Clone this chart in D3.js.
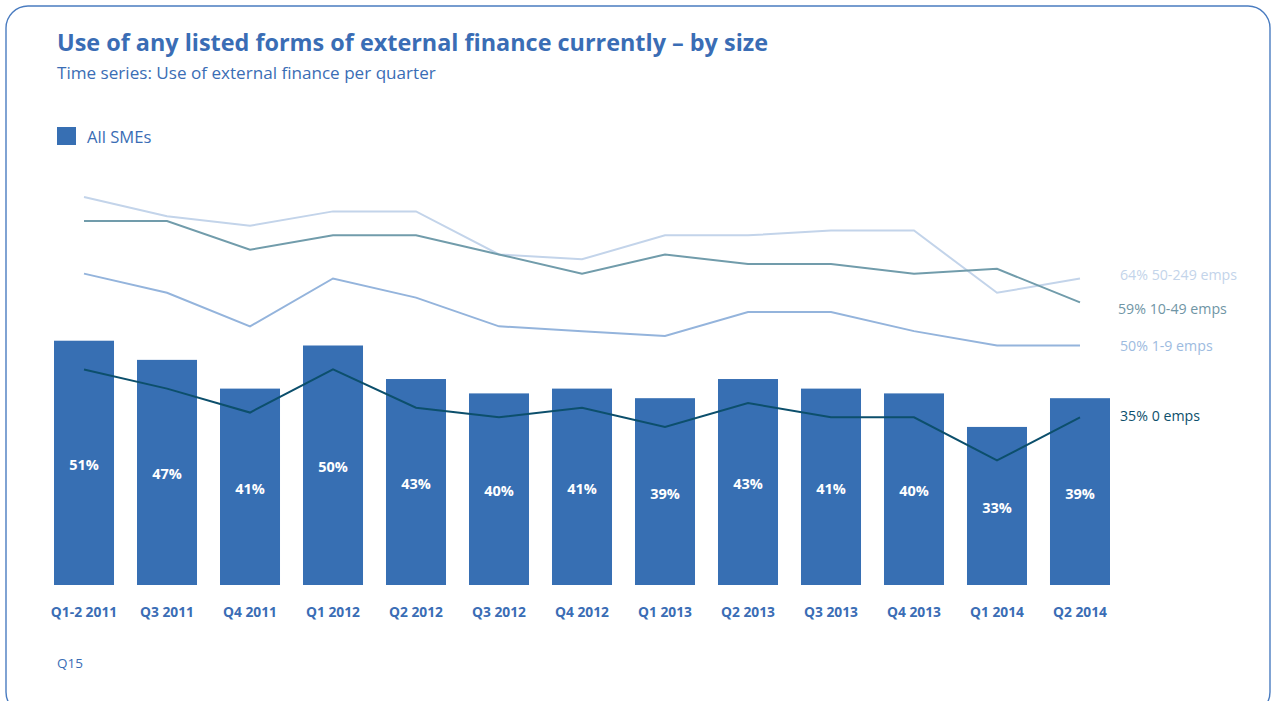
<!DOCTYPE html>
<html>
<head>
<meta charset="utf-8">
<script src="https://cdn.jsdelivr.net/npm/d3@7"></script>
<style>
  html, body { margin: 0; padding: 0; background: #ffffff; }
  svg { display: block; font-family: "Open Sans", "Noto Sans", sans-serif; }
</style>
</head>
<body>
<svg id="chart" width="1273" height="701"></svg>
<script>
// Survey quarters
const quarters = ["Q1-2 2011", "Q3 2011", "Q4 2011", "Q1 2012", "Q2 2012", "Q3 2012", "Q4 2012",
                  "Q1 2013", "Q2 2013", "Q3 2013", "Q4 2013", "Q1 2014", "Q2 2014"];

// Use of external finance, all SMEs (%)
const allSMEs = [51, 47, 41, 50, 43, 40, 41, 39, 43, 41, 40, 33, 39];

// Use of external finance by business size (%)
const emps0     = [45, 41, 36, 45, 37, 35, 37, 33, 38, 35, 35, 26, 35];
const emps1to9  = [65, 61, 54, 64, 60, 54, 53, 52, 57, 57, 53, 50, 50];
const emps10to49 = [76, 76, 70, 73, 73, 69, 65, 69, 67, 67, 65, 66, 59];
const emps50to249 = [81, 77, 75, 78, 78, 69, 68, 73, 73, 74, 74, 61, 64];

const sizeSeries = [
  { name: "50-249 emps", values: emps50to249, color: "#c3d4ea", labelColor: "#c3d4ea", nudge: -3, lx: 1120 },
  { name: "10-49 emps",  values: emps10to49,  color: "#719cab", labelColor: "#6f95a5", nudge: 7, lx: 1118 },
  { name: "1-9 emps",    values: emps1to9,    color: "#94b4dc", labelColor: "#9dbbe0", nudge: 0, lx: 1120 },
  { name: "0 emps",      values: emps0,       color: "#0c4f6c", labelColor: "#0c4f6c", nudge: -1, lx: 1120 }
];

const blue = "#376fb3";
const titleBlue = "#3a6db5";

const svg = d3.select("#chart");

// Rounded frame
svg.append("rect")
  .attr("x", 6).attr("y", 6)
  .attr("width", 1264).attr("height", 708)
  .attr("rx", 22).attr("ry", 22)
  .attr("fill", "none")
  .attr("stroke", "#4a7cc0")
  .attr("stroke-width", 1.4);

// Titles
svg.append("text")
  .attr("x", 57).attr("y", 51)
  .attr("fill", titleBlue)
  .attr("font-size", 23.4).attr("font-weight", 700)
  .text("Use of any listed forms of external finance currently – by size");

svg.append("text")
  .attr("x", 57).attr("y", 79)
  .attr("fill", titleBlue)
  .attr("font-size", 17.1)
  .text("Time series: Use of external finance per quarter");

// Legend
svg.append("rect")
  .attr("x", 57).attr("y", 127)
  .attr("width", 19).attr("height", 18)
  .attr("fill", blue);
svg.append("text")
  .attr("x", 87).attr("y", 143)
  .attr("fill", titleBlue)
  .attr("font-size", 16.6)
  .text("All SMEs");

// Scales
const x = d3.scaleBand()
  .domain(quarters)
  .range([54, 1110])
  .paddingInner(0.277)
  .paddingOuter(0);

const y = d3.scaleLinear()
  .domain([0, 100])
  .range([585, 106]);

// Bars
const g = svg.append("g");
g.selectAll("rect.bar")
  .data(quarters)
  .join("rect")
  .attr("class", "bar")
  .attr("x", d => x(d))
  .attr("width", x.bandwidth())
  .attr("y", (d, i) => y(allSMEs[i]))
  .attr("height", (d, i) => y(0) - y(allSMEs[i]))
  .attr("fill", blue);

// Lines by size
const line = d3.line()
  .x((d, i) => x(quarters[i]) + x.bandwidth() / 2)
  .y(d => y(d));

sizeSeries.forEach(s => {
  g.append("path")
    .datum(s.values)
    .attr("d", line)
    .attr("fill", "none")
    .attr("stroke", s.color)
    .attr("stroke-width", 2)
    .attr("stroke-linejoin", "miter");
});

// Bar value labels
g.selectAll("text.val")
  .data(quarters)
  .join("text")
  .attr("class", "val")
  .attr("x", d => x(d) + x.bandwidth() / 2)
  .attr("y", (d, i) => (y(allSMEs[i]) + y(0)) / 2 + 7)
  .attr("text-anchor", "middle")
  .attr("fill", "#ffffff")
  .attr("font-size", 14.5).attr("font-weight", 700)
  .text((d, i) => allSMEs[i] + "%");

// End labels for size series
sizeSeries.forEach(s => {
  const last = s.values[s.values.length - 1];
  svg.append("text")
    .attr("x", s.lx)
    .attr("y", y(last) + s.nudge + 5)
    .attr("fill", s.labelColor)
    .attr("font-size", 14.2)
    .text(last + "% " + s.name);
});

// Category axis
const xAxis = d3.axisBottom(x).tickSize(0).tickPadding(0);
const ax = svg.append("g")
  .attr("transform", "translate(0,617)")
  .call(xAxis);
ax.select(".domain").remove();
ax.selectAll("text")
  .attr("dy", 0)
  .attr("fill", titleBlue)
  .attr("font-size", 13.8).attr("font-weight", 700)
  .attr("font-family", "\"Open Sans\", \"Noto Sans\", sans-serif");

// Source note
svg.append("text")
  .attr("x", 57).attr("y", 668)
  .attr("fill", titleBlue)
  .attr("font-size", 13.5)
  .text("Q15");
</script>
</body>
</html>
